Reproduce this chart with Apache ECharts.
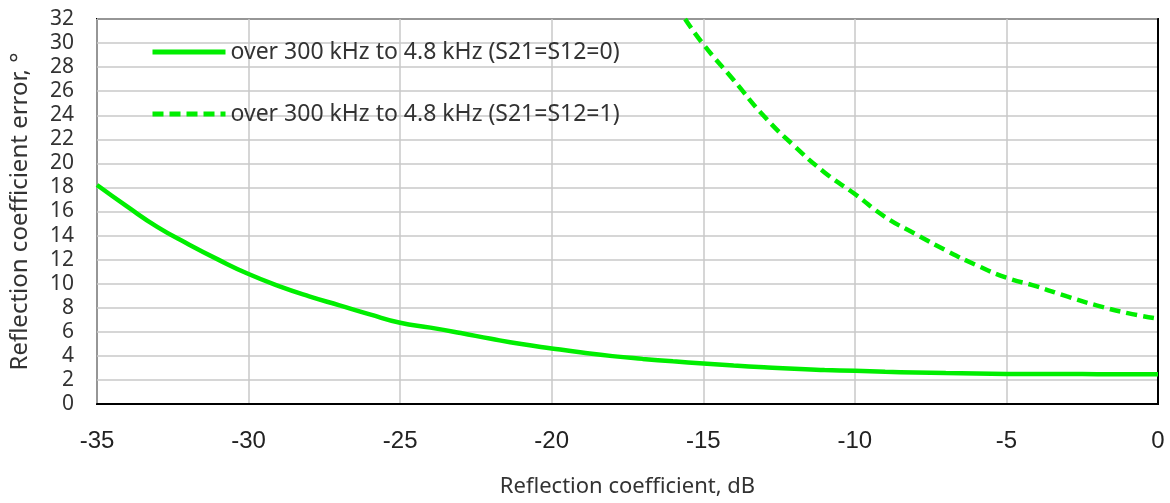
<!DOCTYPE html>
<html>
<head>
<meta charset="utf-8">
<script src="https://cdn.jsdelivr.net/npm/echarts@6/dist/echarts.min.js"></script>
<style>
html,body{margin:0;padding:0;background:#fff;}
#chart{width:1170px;height:503px;}
</style>
</head>
<body>
<div id="chart"></div>
<script>
// Data
const solidX = [-35,-34,-33,-32,-31,-30,-29,-28,-27,-26,-25,-24,-23,-22,-21,-20,-19,-18,-17,-16,-15,-14,-13,-12,-11,-10,-9,-8,-7,-6,-5,-4,-3,-2,-1,0];
const solidY = [18.2,16.4,14.7,13.3,12.0,10.8,9.8,8.95,8.2,7.45,6.75,6.35,5.9,5.42,4.98,4.62,4.28,3.98,3.75,3.55,3.37,3.2,3.05,2.92,2.83,2.76,2.68,2.62,2.57,2.53,2.5,2.49,2.49,2.48,2.48,2.48];
const dashedX = [-15.6,-15,-14,-13,-12,-11,-10,-9,-8,-7,-6,-5,-4,-3,-2,-1,0];
const dashedY = [32.0,29.9,26.93,23.93,21.45,19.25,17.45,15.55,14.13,12.77,11.55,10.5,9.77,8.94,8.18,7.55,7.1];
const seriesNames = ['over 300 kHz to 4.8 kHz (S21=S12=0)','over 300 kHz to 4.8 kHz (S21=S12=1)'];
const xTicks = {min:-35, max:0, interval:5};
const yTicks = {min:0, max:32, interval:2};

const green = '#00ee00';
const chart = echarts.init(document.getElementById('chart'));
chart.setOption({
  animation:false,
  backgroundColor:'#fff',
  grid:{left:95,right:12,top:19,bottom:98,show:true,borderColor:'#000',borderWidth:2,backgroundColor:'transparent'},
  legend:{
    orient:'vertical', left:150, top:39, padding:0, itemWidth:73, itemHeight:14, itemGap:36,
    itemStyle:{color:'transparent',borderWidth:0,opacity:0},
    lineStyle:{width:5},
    textStyle:{fontFamily:'Noto Sans',fontSize:23,color:'#333',lineHeight:26},
    data:[seriesNames[0],seriesNames[1]]
  },
  xAxis:{
    type:'value', min:xTicks.min, max:xTicks.max, interval:xTicks.interval,
    name:'Reflection coefficient, dB', nameLocation:'middle', nameGap:72,
    nameTextStyle:{fontFamily:'Noto Sans',fontSize:22,color:'#333'},
    axisLine:{show:true,lineStyle:{color:'#000',width:2}},
    axisTick:{show:false},
    axisLabel:{fontFamily:'Liberation Sans',fontSize:24,color:'#222',margin:25},
    splitLine:{show:true,lineStyle:{color:'#c8c8c8',width:1.5}}
  },
  yAxis:{
    type:'value', min:yTicks.min, max:yTicks.max, interval:yTicks.interval,
    name:'Reflection coefficient error, °', nameLocation:'middle', nameGap:65,
    nameTextStyle:{fontFamily:'Noto Sans',fontSize:24,color:'#333'},
    axisLine:{show:true,lineStyle:{color:'#000',width:2}},
    axisTick:{show:false},
    axisLabel:{fontFamily:'Noto Sans',fontSize:21,color:'#333',margin:23},
    splitLine:{show:true,lineStyle:{color:'#c8c8c8',width:1.5}}
  },
  series:[
    {name:seriesNames[0],type:'line',smooth:true,symbol:'none',clip:true,
     lineStyle:{color:green,width:4.5},itemStyle:{color:green},
     data:solidX.map((x,i)=>[x,solidY[i]])},
    {name:seriesNames[1],type:'line',smooth:true,symbol:'none',clip:true,
     lineStyle:{color:green,width:4.5,type:[11,6]},itemStyle:{color:green},
     data:dashedX.map((x,i)=>[x,dashedY[i]])}
  ]
});
</script>
</body>
</html>
